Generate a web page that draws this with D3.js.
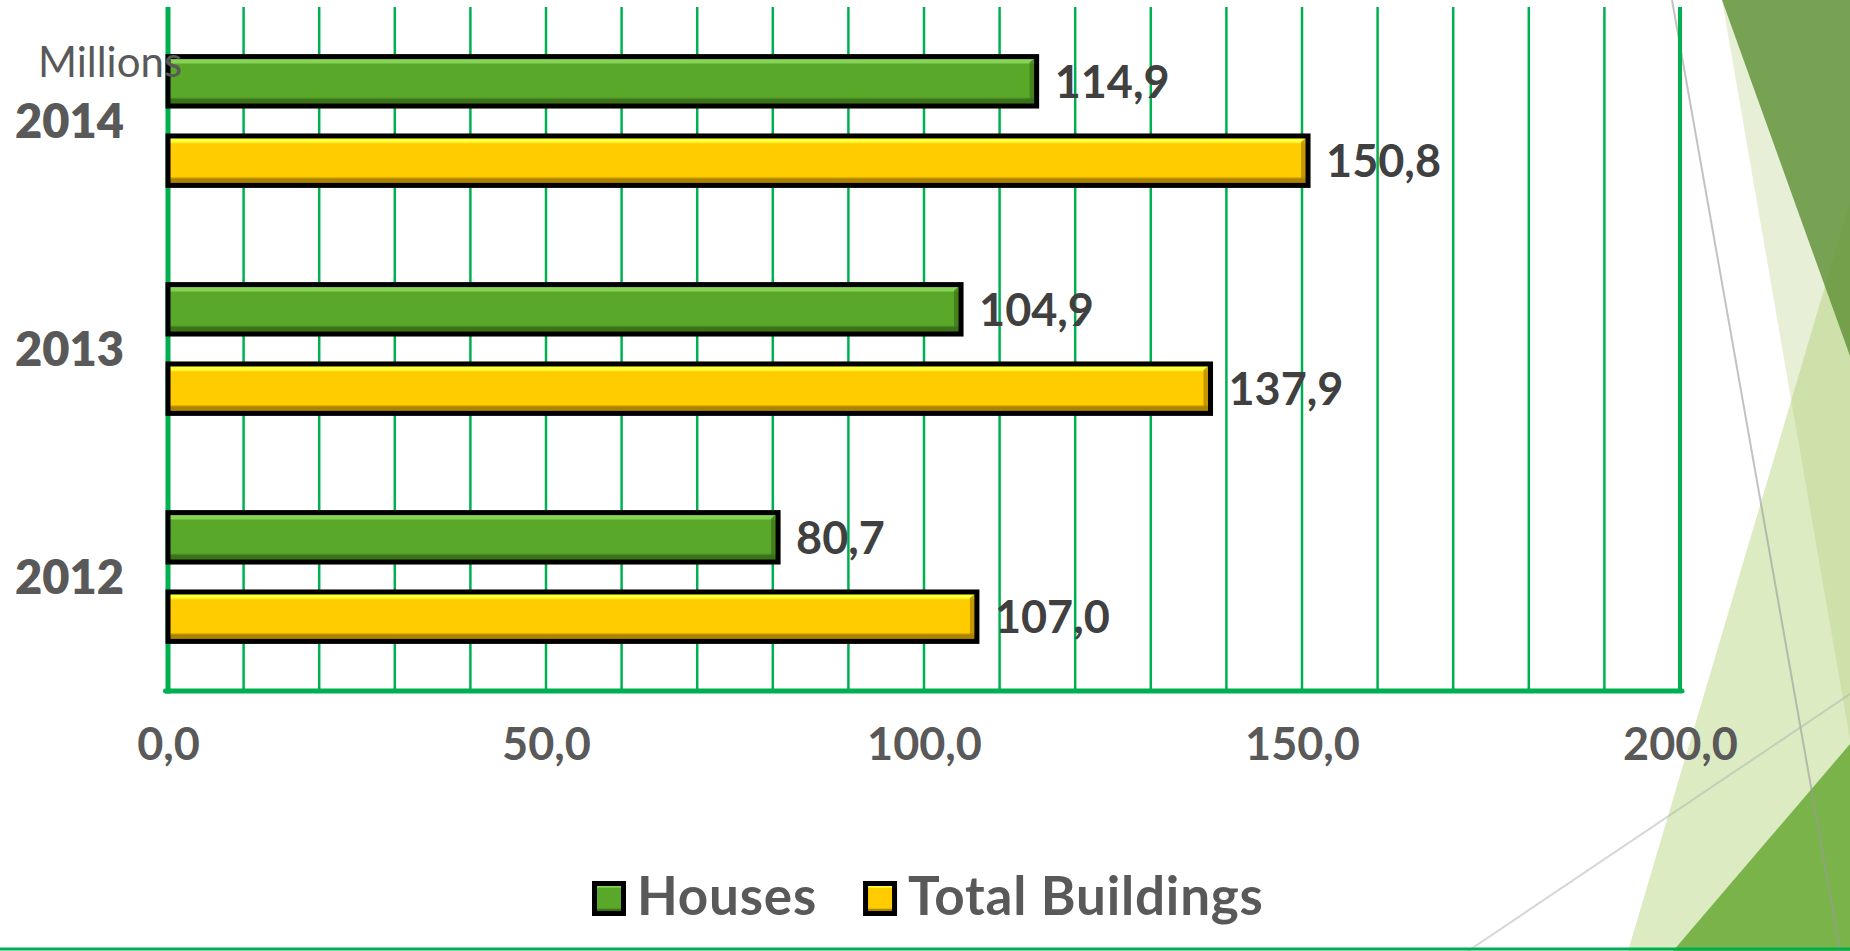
<!DOCTYPE html>
<html>
<head>
<meta charset="utf-8">
<script src="https://cdn.jsdelivr.net/npm/d3@7"></script>
<style>
  body { margin: 0; background: #fff; }
  svg { display: block; font-family: Lato, "Open Sans", sans-serif; }
  svg text { font-family: Lato, "Open Sans", sans-serif; }
</style>
</head>
<body>
<svg></svg>
<script>
// chart data
let years = ["2014", "2013", "2012"];
let seriesNames = ["Houses", "Total Buildings"];
let houses = [114.9, 104.9, 80.7];
let totalBuildings = [150.8, 137.9, 107.0];
let tickValues = [0, 50, 100, 150, 200];
let gridValues = d3.range(0, 201, 10);

let width = 1850,
  height = 951;

let svg = d3.select("svg").attr("width", width).attr("height", height);

let plot = { left: 168, right: 1680, top: 7, bottom: 691 };

let locale = d3.formatLocale({ decimal: ",", thousands: ".", grouping: [3], currency: ["", ""] });
let fmt = locale.format(".1f");

let x = d3.scaleLinear().domain([0, 200]).range([plot.left, plot.right]);
let y = d3.scaleBand().domain(years).range([plot.top, plot.bottom])
  .paddingInner(0.435).paddingOuter(0.2175);
let ySub = d3.scaleBand().domain(seriesNames).range([0, y.bandwidth()]).paddingInner(0.377);

let colors = {
  "Houses": { light: "#86d356", main: "#5aa829", dark: "#3a7219" },
  "Total Buildings": { light: "#ffff3a", main: "#ffcc00", dark: "#ad8200" }
};

// gradients for the bevelled bars
let defs = svg.append("defs");
seriesNames.forEach((s, i) => {
  let g = defs.append("linearGradient").attr("id", "grad" + i)
    .attr("x1", 0).attr("y1", 0).attr("x2", 0).attr("y2", 1);
  let c = colors[s];
  [[0, c.light], [0.12, c.light], [0.16, c.main], [0.82, c.main], [0.87, c.dark], [1, c.dark]]
    .forEach(st => g.append("stop").attr("offset", st[0]).attr("stop-color", st[1]));
});

// slide decoration on the right
let deco = svg.append("g").attr("id", "deco");
deco.append("polygon").attr("points", "1722,0 1850,0 1850,740").attr("fill", "#e7efd6");
deco.append("polygon").attr("points", "1628,951 1850,951 1850,202").attr("fill", "#a9cc6a").attr("fill-opacity", 0.4);
deco.append("polygon").attr("points", "1722,0 1850,0 1850,356").attr("fill", "#64943c").attr("fill-opacity", 0.85);
deco.append("polygon").attr("points", "1673,951 1850,951 1850,744").attr("fill", "#7ab34a");
deco.append("line").attr("x1", 1672).attr("y1", 0).attr("x2", 1840).attr("y2", 951)
  .attr("stroke", "#9a9a9a").attr("stroke-opacity", 0.6).attr("stroke-width", 2);
deco.append("line").attr("x1", 1468).attr("y1", 951).attr("x2", 1850).attr("y2", 694)
  .attr("stroke", "#b0b0b0").attr("stroke-opacity", 0.5).attr("stroke-width", 2);
deco.append("line").attr("x1", 0).attr("y1", 949).attr("x2", width).attr("y2", 949)
  .attr("stroke", "#00b050").attr("stroke-width", 3);

// gridlines
svg.append("g")
  .attr("id", "grid")
  .selectAll("line")
  .data(gridValues)
  .enter()
  .append("line")
  .attr("x1", d => x(d))
  .attr("x2", d => x(d))
  .attr("y1", plot.top)
  .attr("y2", plot.bottom)
  .attr("stroke", "#00b050")
  .attr("stroke-width", d => d === 200 ? 4 : 2.5);

// axis lines
svg.append("line").attr("x1", plot.left).attr("x2", plot.left)
  .attr("y1", plot.top).attr("y2", plot.bottom + 2.5)
  .attr("stroke", "#00b050").attr("stroke-width", 5);
svg.append("line").attr("x1", plot.left - 2.5).attr("x2", plot.right + 2)
  .attr("y1", plot.bottom).attr("y2", plot.bottom)
  .attr("stroke", "#00b050").attr("stroke-width", 5).attr("stroke-linecap", "round");

// x tick labels
let xAxis = svg.append("g")
  .attr("transform", "translate(0," + (plot.bottom + 69) + ")")
  .call(d3.axisBottom(x).tickValues(tickValues).tickSize(0).tickFormat(fmt));
xAxis.select(".domain").remove();
xAxis.attr("font-family", null);
xAxis.selectAll("text")
  .attr("y", 0).attr("dy", 0)
  .attr("fill", "#595959")
  .style("font-size", "45px")
  .style("font-weight", "bold");

// category labels
let yAxis = svg.append("g")
  .attr("transform", "translate(124,0)")
  .call(d3.axisLeft(y).tickSize(0));
yAxis.select(".domain").remove();
yAxis.attr("font-family", null);
yAxis.selectAll("text")
  .attr("x", 0)
  .attr("dy", "0.36em")
  .attr("fill", "#595959")
  .style("font-size", "47px")
  .style("font-weight", "800");

// bars
let rows = [];
years.forEach((yr, i) => {
  rows.push({ year: yr, series: "Houses", value: houses[i], idx: 0 });
  rows.push({ year: yr, series: "Total Buildings", value: totalBuildings[i], idx: 1 });
});

let bars = svg.append("g").attr("id", "bars")
  .selectAll("g")
  .data(rows)
  .enter()
  .append("g")
  .attr("transform", d => "translate(0," + (y(d.year) + ySub(d.series)) + ")");

bars.append("rect")
  .attr("x", x(0))
  .attr("y", 0)
  .attr("width", d => x(d.value) - x(0))
  .attr("height", ySub.bandwidth())
  .attr("fill", d => "url(#grad" + d.idx + ")");

// darker right-hand bevel
bars.append("polygon")
  .attr("points", d => {
    let r = x(d.value), h = ySub.bandwidth();
    return [[r - 7, 6], [r, 0], [r, h], [r - 7, h - 6]].map(p => p.join(",")).join(" ");
  })
  .attr("fill", d => colors[d.series].dark)
  .attr("fill-opacity", 0.7);

bars.append("rect")
  .attr("x", x(0))
  .attr("y", 0)
  .attr("width", d => x(d.value) - x(0))
  .attr("height", ySub.bandwidth())
  .attr("fill", "none")
  .attr("stroke", "#000")
  .attr("stroke-width", 5);

bars.append("text")
  .attr("x", d => x(d.value) + 18)
  .attr("y", ySub.bandwidth() / 2)
  .attr("dy", "0.36em")
  .attr("fill", "#404040")
  .style("font-size", "45px")
  .style("font-weight", "bold")
  .text(d => fmt(d.value));

// legend
let legend = svg.append("g").attr("id", "legend");
let lx = 592;
seriesNames.forEach((s, i) => {
  let item = legend.append("g").attr("transform", "translate(" + lx + ",881)");
  item.append("rect").attr("x", 2.5).attr("y", 2.5).attr("width", 29).attr("height", 30)
    .attr("fill", "url(#grad" + i + ")").attr("stroke", "#000").attr("stroke-width", 5);
  let t = item.append("text")
    .attr("x", 45).attr("y", 34)
    .attr("fill", "#595959")
    .style("font-size", "53px")
    .style("font-weight", "bold")
    .style("letter-spacing", "0.8px")
    .text(s);
  lx += 45 + t.node().getComputedTextLength() + 46;
});

// units label (drawn over the axis)
svg.append("text")
  .attr("x", 38).attr("y", 77)
  .attr("fill", "#595959")
  .style("font-size", "42px")
  .text("Millions");
</script>
</body>
</html>
